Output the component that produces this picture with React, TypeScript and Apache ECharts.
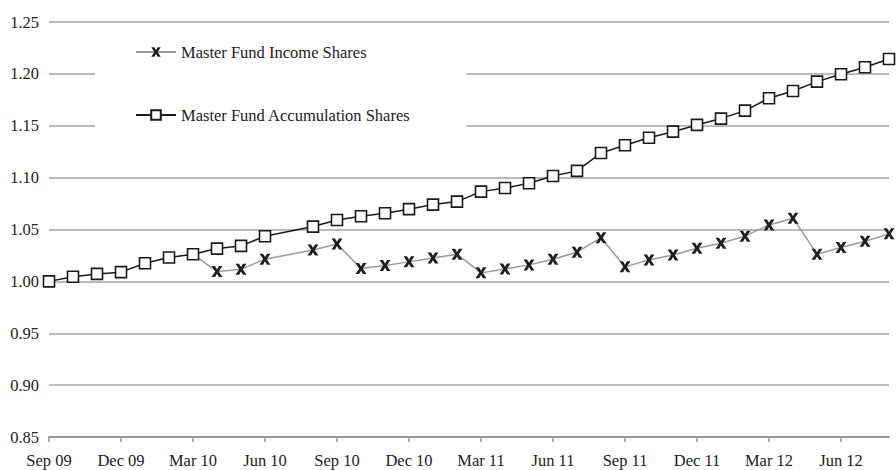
import React, { useEffect, useRef } from "react";
import * as echarts from "echarts";

const months = [
  "Sep 09", "Oct 09", "Nov 09", "Dec 09", "Jan 10", "Feb 10", "Mar 10", "Apr 10", "May 10", "Jun 10", "Jul 10", "Aug 10",
  "Sep 10", "Oct 10", "Nov 10", "Dec 10", "Jan 11", "Feb 11", "Mar 11", "Apr 11", "May 11", "Jun 11", "Jul 11", "Aug 11",
  "Sep 11", "Oct 11", "Nov 11", "Dec 11", "Jan 12", "Feb 12", "Mar 12", "Apr 12", "May 12", "Jun 12", "Jul 12", "Aug 12",
];

const incomeShares: (number | null)[] = [
  null, null, null, null, null, null, 1.0262, 1.0094, 1.0117, 1.0214, null, 1.0303,
  1.0361, 1.0123, 1.0152, 1.0188, 1.0226, 1.0262, 1.0082, 1.012, 1.0159, 1.0214, 1.0281, 1.0421,
  1.014, 1.0207, 1.0255, 1.032, 1.0368, 1.0436, 1.0544, 1.0609, 1.0262, 1.0326, 1.0387, 1.0458,
];

const accumulationShares: (number | null)[] = [
  1.0, 1.0045, 1.0072, 1.0089, 1.0175, 1.023, 1.0262, 1.0316, 1.0342, 1.0435, null, 1.0528,
  1.0592, 1.0628, 1.0657, 1.0696, 1.074, 1.0769, 1.0865, 1.09, 1.0946, 1.1016, 1.1065, 1.1238,
  1.1312, 1.1385, 1.1443, 1.1508, 1.1569, 1.1646, 1.1765, 1.1835, 1.1925, 1.1996, 1.2064, 1.2144,
];

const seriesNames = ["Master Fund Income Shares", "Master Fund Accumulation Shares"];

const FONT = "Liberation Serif";
const CROSS =
  "path://M0,0 L3.2,0 L5,3 L6.8,0 L10,0 L6.6,5 L10,10 L6.8,10 L5,7 L3.2,10 L0,10 L3.4,5 Z";

export default function App() {
  const ref = useRef<HTMLDivElement>(null);
  useEffect(() => {
    if (!ref.current) return;
    const chart = echarts.init(ref.current, undefined, { renderer: "svg" });
    chart.setOption({
      animation: false,
      backgroundColor: "#ffffff",
      textStyle: { fontFamily: FONT },
      grid: { left: 49, right: 7, top: 22, bottom: 33, containLabel: false },
      legend: {
        orient: "vertical",
        left: 95,
        top: 32,
        padding: [10, 56, 10, 40],
        backgroundColor: "#ffffff",
        itemWidth: 40,
        itemHeight: 12,
        itemGap: 43,
        data: seriesNames,
        textStyle: { fontFamily: FONT, fontSize: 16.5, color: "#222", lineHeight: 20 },
      },
      xAxis: {
        type: "category",
        data: months,
        boundaryGap: false,
        axisLine: { lineStyle: { color: "#999", width: 2 } },
        axisTick: { interval: 2, length: 5, lineStyle: { color: "#999", width: 1.5 } },
        axisLabel: {
          interval: 2,
          margin: 15,
          fontFamily: FONT,
          fontSize: 16.5,
          color: "#222",
        },
        splitLine: { show: false },
      },
      yAxis: {
        type: "value",
        min: 0.85,
        max: 1.25,
        interval: 0.05,
        axisLine: { show: false },
        axisTick: { show: false },
        axisLabel: {
          margin: 10,
          fontFamily: FONT,
          fontSize: 16.5,
          color: "#222",
          formatter: (v: number) => v.toFixed(2),
        },
        splitLine: { lineStyle: { color: "#a6a6a6", width: 1.5 } },
      },
      series: [
        {
          name: seriesNames[0],
          type: "line",
          data: incomeShares,
          connectNulls: true,
          symbol: CROSS,
          symbolSize: 11,
          itemStyle: { color: "#1e1e1e" },
          lineStyle: { color: "#9a9a9a", width: 1.5 },
          z: 2,
        },
        {
          name: seriesNames[1],
          type: "line",
          data: accumulationShares,
          connectNulls: true,
          symbol: "rect",
          symbolSize: 11,
          itemStyle: { color: "#ffffff", borderColor: "#1a1a1a", borderWidth: 1.6 },
          lineStyle: { color: "#1a1a1a", width: 1.5 },
          z: 3,
        },
      ],
    });
    return () => chart.dispose();
  }, []);
  return (
    <div
      ref={ref}
      style={{ position: "fixed", left: 0, top: 0, width: 896, height: 470 }}
    />
  );
}
